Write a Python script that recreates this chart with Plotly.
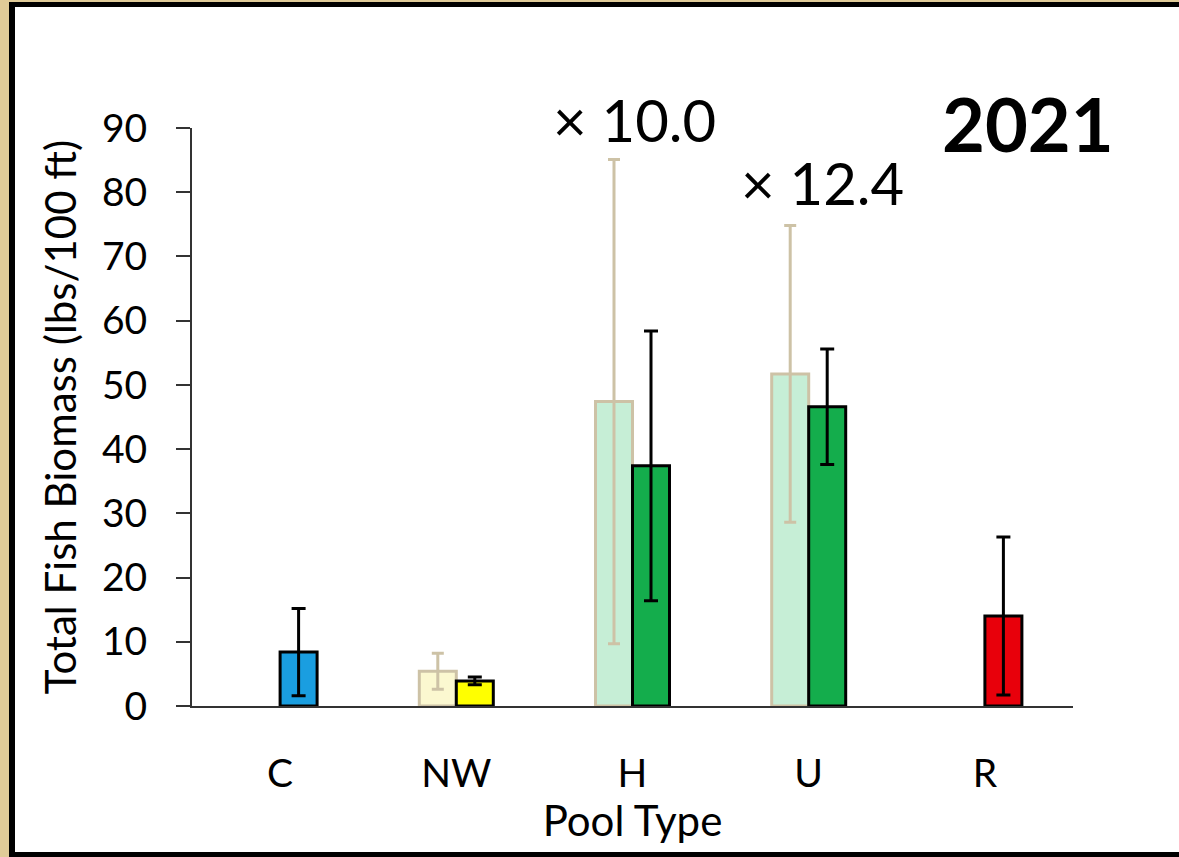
import plotly.graph_objects as go

categories = ["C", "NW", "H", "U", "R"]
prev_values = [None, 5.4, 47.4, 51.7, None]
prev_errors = [None, 2.8, 37.7, 23.1, None]
prev_colors = ["#c6eed6", "#fbf8d0", "#c6eed6", "#c6eed6", "#c6eed6"]

cur_values = [8.4, 3.9, 37.4, 46.6, 14.0]
cur_errors = [6.8, 0.6, 21.0, 9.0, 12.3]
cur_colors = ["#1a9ee0", "#ffff00", "#14ad4c", "#14ad4c", "#e8000b"]

y_ticks = [0, 10, 20, 30, 40, 50, 60, 70, 80, 90]
annotations_text = ["× 10.0", "× 12.4"]
year_label = "2021"

FONT = "Lato"

fig = go.Figure()
fig.add_trace(go.Bar(
    x=categories, y=prev_values,
    marker=dict(color=prev_colors, line=dict(color="#cdc2a6", width=3)),
    error_y=dict(type="data", array=prev_errors, visible=True,
                 color="#cdc2a6", thickness=3, width=6),
    showlegend=False,
))
fig.add_trace(go.Bar(
    x=categories, y=cur_values,
    marker=dict(color=cur_colors, line=dict(color="#000000", width=3)),
    error_y=dict(type="data", array=cur_errors, visible=True,
                 color="#000000", thickness=3, width=7),
    showlegend=False,
))

L, R, T, B = 192, 1073, 128, 706
W, H = 1179, 857
pw, ph = R - L, B - T

def px(x):
    return (x - L) / pw

def py(y):
    return (B - y) / ph

shapes = [
    dict(type="rect", xref="paper", yref="paper", layer="below",
         x0=px(9), x1=px(1190), y0=py(870), y1=py(2),
         fillcolor="#000000", line=dict(width=0)),
    dict(type="rect", xref="paper", yref="paper", layer="below",
         x0=px(15), x1=px(1190), y0=py(852), y1=py(7),
         fillcolor="#ffffff", line=dict(width=0)),
]

annotations = [
    dict(text=annotations_text[0], xref="paper", yref="paper",
         x=px(634), y=py(119), xanchor="center", yanchor="middle", showarrow=False,
         font=dict(family=FONT, size=58, color="#000000")),
    dict(text=annotations_text[1], xref="paper", yref="paper",
         x=px(822), y=py(182), xanchor="center", yanchor="middle", showarrow=False,
         font=dict(family=FONT, size=58, color="#000000")),
    dict(text="<b>" + year_label + "</b>", xref="paper", yref="paper",
         x=px(1028), y=py(124), xanchor="center", yanchor="middle", showarrow=False,
         font=dict(family=FONT, size=74, color="#000000")),
]

fig.update_layout(
    width=W, height=H,
    margin=dict(l=L, r=W - R, t=T, b=H - B, pad=0),
    paper_bgcolor="#e0cb98",
    plot_bgcolor="#ffffff",
    barmode="group",
    bargap=0.58,
    bargroupgap=0.0,
    shapes=shapes,
    annotations=annotations,
    font=dict(family=FONT, color="#000000"),
)

fig.update_xaxes(
    showline=True, linecolor="#333333", linewidth=2,
    ticks="", showgrid=False, zeroline=False,
    tickfont=dict(family=FONT, size=39, color="#000000"),
    ticklabelstandoff=32,
    title=dict(text="Pool Type", font=dict(family=FONT, size=42, color="#000000"), standoff=13),
)
fig.update_yaxes(
    range=[0, 90], tickvals=y_ticks,
    showline=True, linecolor="#333333", linewidth=2,
    ticks="outside", ticklen=14, tickwidth=2, tickcolor="#333333",
    showgrid=False, zeroline=False,
    tickfont=dict(family=FONT, size=39, color="#000000"),
    ticklabelstandoff=21,
    title=dict(text="Total Fish Biomass (lbs/100 ft)",
               font=dict(family=FONT, size=42, color="#000000"), standoff=12),
)

fig.write_html("out.html", config={"displayModeBar": False},
               post_script="document.body.style.margin='0px';")
